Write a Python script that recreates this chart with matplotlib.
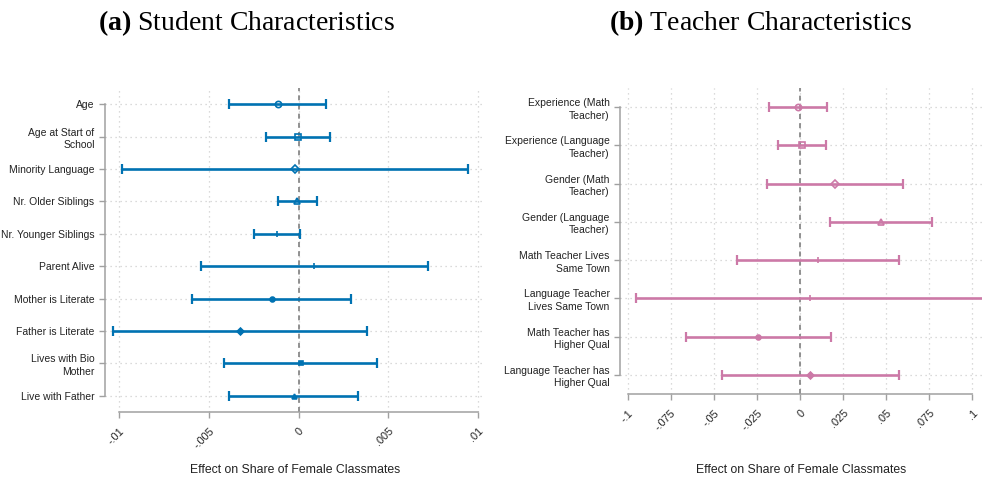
import matplotlib.pyplot as plt

# student characteristics (panel a)
stu_labels = ["Age", "Age at Start of\nSchool", "Minority Language", "Nr. Older Siblings",
              "Nr. Younger Siblings", "Parent Alive", "Mother is Literate",
              "Father is Literate", "Lives with Bio\nMother", "Live with Father"]
stu_coef = [-0.00115, -0.00002, -0.0002, -0.0001, -0.00122, 0.00087, -0.00148, -0.00327, 0.00011, -0.00026]
stu_lo = [-0.00386, -0.00182, -0.00985, -0.00117, -0.0025, -0.00542, -0.00592, -0.01037, -0.00414, -0.00388]
stu_hi = [0.00154, 0.00176, 0.00944, 0.0010, 0.00006, 0.0072, 0.00295, 0.00382, 0.0044, 0.00334]
stu_ticks = [-0.01, -0.005, 0, 0.005, 0.01]
stu_ticklabels = ["-.01", "-.005", "0", ".005", ".01"]

# teacher characteristics (panel b)
tea_labels = ["Experience (Math\nTeacher)", "Experience (Language\nTeacher)", "Gender (Math\nTeacher)",
              "Gender (Language\nTeacher)", "Math Teacher Lives\nSame Town", "Language Teacher\nLives Same Town",
              "Math Teacher has\nHigher Qual", "Language Teacher has\nHigher Qual"]
tea_coef = [-0.0013, 0.001, 0.0205, 0.047, 0.0104, 0.006, -0.0242, 0.006]
tea_lo = [-0.0182, -0.0128, -0.019, 0.0172, -0.0367, -0.0954, -0.0662, -0.0455]
tea_hi = [0.0157, 0.0151, 0.0598, 0.0768, 0.0573, 0.115, 0.018, 0.0576]
tea_ticks = [-0.1, -0.075, -0.05, -0.025, 0, 0.025, 0.05, 0.075, 0.1]
tea_ticklabels = ["-.1", "-.075", "-.05", "-.025", "0", ".025", ".05", ".075", ".1"]

markers = [("o", "none"), ("s", "none"), ("D", "none"), ("^", "none"), ("|", None),
           ("|", None), ("o", None), ("D", None), ("s", None), ("^", None)]

plt.rcParams['font.family'] = ['Liberation Sans', 'DejaVu Sans']
plt.rcParams['mathtext.fontset'] = 'custom'
plt.rcParams['mathtext.rm'] = 'Liberation Serif'
plt.rcParams['mathtext.bf'] = 'Liberation Serif:bold'

fig = plt.figure(figsize=(9.82, 4.82), dpi=100)
ax1 = fig.add_axes([105 / 982, 1 - 412 / 482, 380 / 982, 324 / 482])
ax2 = fig.add_axes([620 / 982, 1 - 394 / 482, 362 / 982, 306 / 482])


def draw(ax, labels, coef, lo, hi, ticks, ticklabels, xlim, color):
    n = len(labels)
    ys = list(range(1, n + 1))
    for i in range(n):
        ax.plot([lo[i], hi[i]], [ys[i], ys[i]], color=color, lw=1.9, zorder=3,
                solid_capstyle='butt')
        ax.plot([lo[i], hi[i]], [ys[i], ys[i]], ls='none', marker='|', ms=7, mew=1.6,
                color=color, zorder=3)
        m, fc = markers[i]
        if fc == "none":
            ms = 4.5
        elif m == "|":
            ms = 4
        else:
            ms = 3.5
        ax.plot(coef[i], ys[i], marker=m, ms=ms, color=color, mfc=fc if fc else color,
                mew=1.2, zorder=4)
    ax.axvline(0, color='#7f7f7f', ls=(0, (3, 2.5)), lw=1.2, zorder=2)
    ax.set_xlim(*xlim)
    ax.set_ylim(n + 0.5, 0.5)
    ax.set_yticks(ys)
    ax.set_yticklabels(labels, fontsize=7.5, linespacing=1.3, multialignment='right')
    ax.set_xticks(ticks)
    ax.set_xticklabels(ticklabels, fontsize=7.8, rotation=45, ha='right', va='top',
                       rotation_mode='anchor')
    ax.grid(True, ls=(0, (1, 3)), color='#cfcfcf', lw=0.9, zorder=0)
    for s in ['top', 'right']:
        ax.spines[s].set_visible(False)
    for s in ['left', 'bottom']:
        ax.spines[s].set_color('#a0a0a0')
        ax.spines[s].set_linewidth(1.1)
    ax.spines['left'].set_bounds(1, n)
    ax.spines['bottom'].set_bounds(ticks[0], ticks[-1])
    ax.tick_params(axis='both', color='#a0a0a0', length=4, width=1, labelcolor='#222222')
    ax.tick_params(axis='x', pad=6)
    pos = ax.get_position()
    fig.text((pos.x0 + pos.x1) / 2, 1 - 470 / 482, "Effect on Share of Female Classmates",
             fontsize=8.8, color='#222222', ha='center', va='center')


draw(ax1, stu_labels, stu_coef, stu_lo, stu_hi, stu_ticks, stu_ticklabels,
     (-0.0108, 0.0104), '#0072B2')
draw(ax2, tea_labels, tea_coef, tea_lo, tea_hi, tea_ticks, tea_ticklabels,
     (-0.1045, 0.1056), '#CC79A7')

fig.text(246 / 982, 1 - 23 / 482, r"$\mathbf{(a)}$ Student Characteristics", family='Liberation Serif',
         fontsize=20, ha='center', va='center')
fig.text(760 / 982, 1 - 23 / 482, r"$\mathbf{(b)}$ Teacher Characteristics", family='Liberation Serif',
         fontsize=20, ha='center', va='center')

fig.savefig("out.png", dpi=100)
